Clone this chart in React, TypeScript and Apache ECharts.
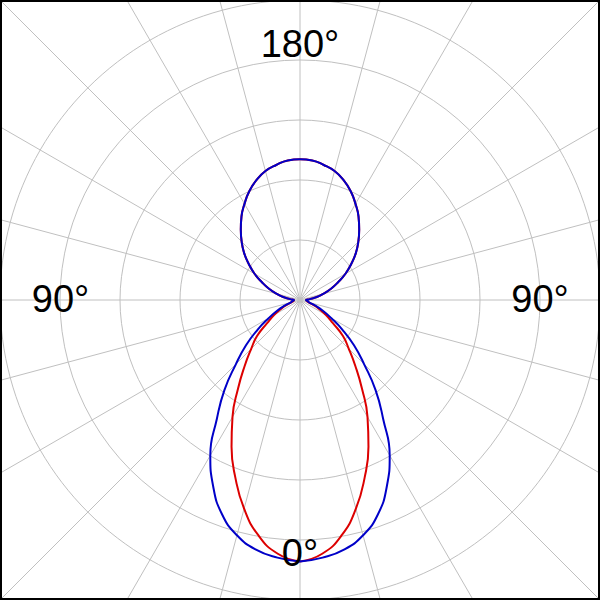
import React, { useEffect, useRef } from "react";
import * as echarts from "echarts";

// Sampling angles (degrees, 0 = bottom of the plot)
const angleDeg = [
  0, 5, 10, 15, 20, 25, 30, 35, 40, 45, 50, 55, 60, 65, 70, 75, 80, 85, 90,
  95, 100, 105, 110, 115, 120, 125, 130, 135, 140, 145, 150, 155, 160, 165, 170, 175, 180,
  185, 190, 195, 200, 205, 210, 215, 220, 225, 230, 235, 240, 245, 250, 255, 260, 265, 270,
  275, 280, 285, 290, 295, 300, 305, 310, 315, 320, 325, 330, 335, 340, 345, 350, 355, 360,
];

// Blue pattern (normalised radius, 1.0 = outer ring)
const blueGain = [
  0.872, 0.862, 0.845, 0.812, 0.760, 0.685, 0.598, 0.483, 0.392, 0.302, 0.235, 0.173, 0.120, 0.083, 0.053, 0.033, 0.027, 0.023, 0.020,
  0.033, 0.057, 0.080, 0.110, 0.140, 0.175, 0.208, 0.243, 0.275, 0.307, 0.340, 0.370, 0.400, 0.425, 0.445, 0.457, 0.467, 0.469,
  0.467, 0.457, 0.445, 0.425, 0.400, 0.370, 0.340, 0.307, 0.275, 0.243, 0.208, 0.175, 0.140, 0.110, 0.080, 0.057, 0.033, 0.020,
  0.023, 0.027, 0.033, 0.053, 0.083, 0.120, 0.173, 0.235, 0.302, 0.392, 0.483, 0.598, 0.685, 0.760, 0.812, 0.845, 0.862, 0.872,
];

// Red pattern (normalised radius)
const redGain = [
  0.872, 0.849, 0.797, 0.720, 0.630, 0.540, 0.450, 0.360, 0.287, 0.230, 0.187, 0.133, 0.100, 0.070, 0.047, 0.030, 0.023, 0.022, 0.020,
  0.033, 0.057, 0.080, 0.110, 0.140, 0.175, 0.208, 0.243, 0.275, 0.307, 0.340, 0.370, 0.400, 0.425, 0.445, 0.457, 0.467, 0.469,
  0.467, 0.457, 0.445, 0.425, 0.400, 0.370, 0.340, 0.307, 0.275, 0.243, 0.208, 0.175, 0.140, 0.110, 0.080, 0.057, 0.033, 0.020,
  0.022, 0.023, 0.030, 0.047, 0.070, 0.100, 0.133, 0.187, 0.230, 0.287, 0.360, 0.450, 0.540, 0.630, 0.720, 0.797, 0.849, 0.872,
];

// Angle labels drawn inside the plot
const angleLabels = ["0°", "90°", "180°", "90°"];

const GRID = "#c0c0c0";
const CLEAR = "rgba(0,0,0,0)";

export default function App() {
  const ref = useRef<HTMLDivElement>(null);

  useEffect(() => {
    const chart = echarts.init(ref.current as HTMLDivElement, null, { renderer: "svg" });

    const labelPos = [
      [300, 553],
      [60.5, 298.5],
      [300, 44],
      [540, 298.5],
    ];

    const option: any = {
      animation: false,
      backgroundColor: "#ffffff",
      polar: { center: [300, 300], radius: 480 },
      angleAxis: {
        type: "value",
        min: 0,
        max: 360,
        interval: 15,
        startAngle: 270,
        clockwise: true,
        axisLine: { show: false },
        axisTick: { show: false },
        axisLabel: { show: false },
        splitLine: { show: true, lineStyle: { color: GRID, width: 1 } },
      },
      radiusAxis: {
        type: "value",
        min: 0,
        max: 1.6,
        interval: 0.2,
        axisLine: { show: false },
        axisTick: { show: false },
        axisLabel: { show: false },
        splitLine: {
          show: true,
          lineStyle: {
            color: [GRID, GRID, GRID, GRID, GRID, GRID, CLEAR, CLEAR, CLEAR],
            width: 1,
          },
        },
      },
      series: [
        {
          name: "red",
          type: "line",
          coordinateSystem: "polar",
          showSymbol: false,
          smooth: true,
          lineStyle: { color: "#dc0000", width: 2 },
          data: angleDeg.map((a, i) => [redGain[i], a]),
          z: 2,
        },
        {
          name: "blue",
          type: "line",
          coordinateSystem: "polar",
          showSymbol: false,
          smooth: true,
          lineStyle: { color: "#0000c8", width: 2 },
          data: angleDeg.map((a, i) => [blueGain[i], a]),
          z: 3,
        },
      ],
      graphic: [
        ...angleLabels.map((t, i) => ({
          type: "text",
          x: labelPos[i][0],
          y: labelPos[i][1],
          z: 10,
          style: {
            text: t,
            fill: "#000000",
            fontSize: 38,
            fontFamily: "'Liberation Sans', Arial, sans-serif",
            align: "center",
            verticalAlign: "middle",
          },
        })),
        {
          type: "rect",
          z: 20,
          shape: { x: 1, y: 1, width: 598, height: 598 },
          style: { fill: "none", stroke: "#000000", lineWidth: 2 },
        },
      ],
    };

    chart.setOption(option);
    return () => chart.dispose();
  }, []);

  return (
    <div
      ref={ref}
      style={{ position: "fixed", left: 0, top: 0, width: 600, height: 600, background: "#fff" }}
    />
  );
}
